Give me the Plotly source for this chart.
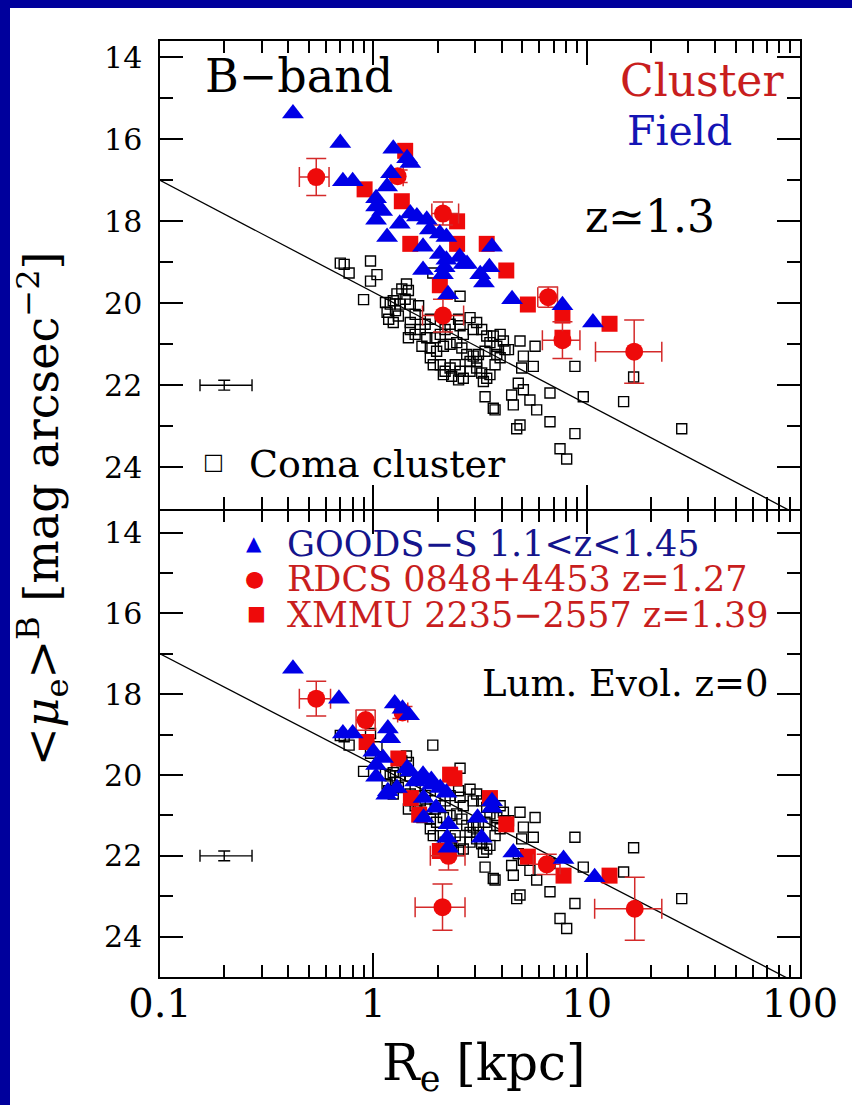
import plotly.graph_objects as go

# ---------------- data ----------------
# Kormendy relation of Coma (same line in both panels)
fit_re = [0.1, 100.0]
fit_mu = [17.0, 25.19]

# Coma cluster galaxies (z = 0), identical in both panels
coma_re = [0.70, 0.73, 0.77, 0.97, 1.04, 0.97, 0.90, 1.14, 1.20, 1.24,
           1.29, 1.36, 1.43, 1.46, 1.41, 1.33, 1.27, 1.16, 1.18, 1.24,
           1.31, 1.49, 1.63, 1.57, 1.49, 1.49, 1.46, 1.57, 1.66, 1.75,
           1.85, 1.78, 1.69, 1.85, 1.95, 2.06, 2.17, 2.29, 2.51, 2.55,
           2.64, 2.84, 3.05, 2.94, 3.22, 3.40, 3.65, 3.93, 4.07, 4.14,
           4.30, 3.79, 3.52, 3.34, 3.11, 2.94, 2.74, 2.60, 2.46, 2.29,
           2.13, 1.98, 1.85, 1.91, 2.06, 2.17, 2.29, 2.42, 2.55, 2.64,
           2.51, 2.33, 2.13, 2.84, 3.05, 3.22, 3.40, 3.28, 3.52, 3.72,
           3.93, 3.79, 3.05, 2.84, 4.87, 5.73, 5.05, 5.62, 4.96, 4.78,
           5.05, 5.42, 5.83, 4.45, 4.53, 3.34, 3.65, 3.72, 4.70, 4.87,
           6.73, 6.73, 8.81, 9.64, 8.81, 7.50, 8.06, 14.9, 16.6, 27.9,
           1.90, 2.55]
coma_mu = [19.02, 19.05, 19.26, 18.97, 19.30, 19.46, 19.91, 19.98, 20.02, 19.94,
           19.77, 19.65, 19.53, 19.69, 19.90, 20.02, 20.18, 20.22, 20.39, 20.47,
           20.31, 20.02, 20.06, 20.27, 20.47, 20.64, 20.84, 20.76, 20.64, 20.51,
           20.39, 20.84, 21.05, 21.09, 20.84, 20.76, 20.64, 20.51, 20.39, 20.55,
           20.76, 20.35, 20.47, 20.64, 20.64, 20.80, 20.80, 20.76, 20.92, 21.13,
           21.13, 21.05, 20.96, 21.17, 21.25, 21.29, 21.25, 21.09, 20.96, 21.00,
           21.05, 21.17, 21.33, 21.50, 21.50, 21.66, 21.58, 21.50, 21.66, 21.83,
           21.87, 21.78, 21.74, 21.66, 21.58, 21.70, 21.83, 21.91, 21.74, 21.50,
           21.33, 21.25, 21.42, 21.42, 20.92, 21.05, 21.29, 21.54, 21.58, 21.95,
           22.11, 22.36, 22.60, 22.24, 22.48, 22.28, 22.56, 22.60, 23.06, 22.97,
           22.19, 22.89, 21.54, 22.28, 23.18, 23.55, 23.80, 22.40, 21.80, 23.06,
           19.26, 19.83]

# ---- top panel: observed at z~1.3 ----
field_re_z13 = [0.42, 0.70, 0.72, 0.80, 1.24, 1.44, 1.49, 1.21, 1.16, 1.03,
                1.03, 1.03, 1.16, 1.33, 1.49, 1.60, 1.78, 1.84, 2.05, 2.20,
                1.71, 2.05, 2.20, 2.54, 2.75, 1.71, 2.12, 3.17, 3.50, 3.60,
                2.16, 2.65, 3.30, 2.24, 4.47, 7.70, 10.7, 1.10]
field_mu_z13 = [15.37, 16.09, 17.02, 17.02, 16.23, 16.46, 16.58, 16.83, 17.15, 17.44,
                17.64, 17.96, 18.38, 18.06, 17.81, 17.88, 17.96, 18.20, 18.30, 18.38,
                18.62, 18.80, 18.94, 18.87, 19.04, 19.19, 19.29, 19.29, 19.12, 18.62,
                19.12, 19.04, 19.49, 19.78, 19.90, 20.05, 20.47, 17.75]

xmmu_re_z13 = [0.91, 1.41, 1.36, 2.47, 1.49, 2.47, 3.40, 4.20, 2.05, 5.30, 7.70, 7.70, 12.8]
xmmu_mu_z13 = [17.22, 16.28, 17.51, 18.00, 18.55, 18.55, 18.55, 19.20, 19.56, 20.03, 20.30, 20.84, 20.50]

rdcs_re_z13 = [0.54, 1.30, 2.12, 2.12, 6.60, 7.70, 16.7]
rdcs_mu_z13 = [16.92, 16.90, 17.81, 20.30, 19.85, 20.90, 21.18]
rdcs_re_lo_z13 = [0.45, 1.22, 1.88, 1.70, 5.90, 6.20, 11.0]
rdcs_re_hi_z13 = [0.62, 1.38, 2.51, 2.65, 7.30, 9.30, 22.5]
rdcs_mu_err_z13 = [0.45, 0.15, 0.28, 0.40, 0.25, 0.45, 0.77]

# ---- bottom panel: luminosity-evolved to z=0 ----
field_re_z0 = [0.42, 0.69, 1.26, 1.37, 1.47, 0.72, 0.80, 1.17, 1.20, 1.00,
               1.03, 1.03, 1.11, 1.15, 1.44, 1.57, 1.72, 1.88, 2.06, 2.20,
               1.72, 1.72, 1.97, 2.25, 2.25, 2.22, 3.08, 3.22, 3.60, 3.60,
               4.53, 7.79, 10.9, 1.29, 1.49, 1.71, 1.87, 1.17]
field_mu_z0 = [17.37, 18.11, 18.23, 18.36, 18.52, 18.97, 18.97, 18.85, 19.09, 19.42,
               19.75, 20.04, 19.58, 20.49, 19.83, 20.16, 20.08, 20.24, 20.32, 20.44,
               20.57, 21.06, 20.81, 21.22, 21.80, 21.55, 21.06, 21.55, 20.65, 20.81,
               21.92, 22.08, 22.53, 20.32, 19.91, 19.99, 20.12, 20.40]

xmmu_re_z0 = [0.93, 1.31, 2.29, 2.40, 3.52, 4.20, 1.50, 1.64, 2.05, 5.30, 7.79, 12.8]
xmmu_mu_z0 = [19.18, 19.59, 19.99, 20.08, 20.57, 21.22, 20.57, 20.98, 21.88, 22.02, 22.49, 22.49]

rdcs_re_z0 = [0.54, 0.92, 1.37, 2.25, 2.11, 6.50, 16.8]
rdcs_mu_z0 = [18.11, 18.64, 18.45, 22.00, 23.27, 22.21, 23.31]
rdcs_re_lo_z0 = [0.45, 0.83, 1.30, 1.85, 1.57, 5.62, 10.9]
rdcs_re_hi_z0 = [0.63, 1.02, 1.45, 2.69, 2.69, 7.50, 22.5]
rdcs_mu_err_z0 = [0.43, 0.25, 0.15, 0.35, 0.57, 0.25, 0.78]

# typical Coma error bar
typ_re = [0.2]
typ_mu = [22.0]
typ_re_lo = [0.154]
typ_re_hi = [0.27]
typ_mu_err = [0.12]

# axes ticks
x_tickvals = [0.1, 1, 10, 100]
x_ticktext = ["0.1", "1", "10", "100"]
x_minorvals = [0.2, 0.3, 0.4, 0.5, 0.6, 0.7, 0.8, 0.9,
               2, 3, 4, 5, 6, 7, 8, 9, 20, 30, 40, 50, 60, 70, 80, 90]
y_tickvals = [14, 16, 18, 20, 22, 24]
y_minorvals = [15, 17, 19, 21, 23]
y_range_top = [25.02, 13.6]
y_range_bottom = [25.0, 13.45]

# ---------------- style ----------------
FONT = "DejaVu Serif"
RED = "#ee0a0a"
RED_ERR = "#d42a2a"
RED_TXT = "#c81e1e"
BLUE = "#0000e6"
BLUE_TXT = "#1414b4"
NAVY_TXT = "#14148c"
FRAME = "#00009c"
LW = 1.5

fig = go.Figure()


def add_panel(xa, ya, f_re, f_mu, x_re, x_mu, r_re, r_mu, r_lo, r_hi, r_err):
    common = dict(xaxis=xa, yaxis=ya, hoverinfo="skip", showlegend=False)
    fig.add_trace(go.Scatter(x=fit_re, y=fit_mu, mode="lines",
                             line=dict(color="black", width=1.3), **common))
    fig.add_trace(go.Scatter(x=coma_re, y=coma_mu, mode="markers",
                             marker=dict(symbol="square-open", size=10, color="black",
                                         line=dict(width=1.4, color="black")), **common))
    fig.add_trace(go.Scatter(
        x=typ_re, y=typ_mu, mode="markers",
        marker=dict(size=1, color="black"),
        error_x=dict(type="data", symmetric=False,
                     array=[h - r for h, r in zip(typ_re_hi, typ_re)],
                     arrayminus=[r - l for r, l in zip(typ_re, typ_re_lo)],
                     color="black", thickness=1.4, width=6),
        error_y=dict(type="data", array=typ_mu_err, color="black", thickness=1.4, width=6),
        **common))
    fig.add_trace(go.Scatter(x=x_re, y=x_mu, mode="markers",
                             marker=dict(symbol="square", size=16, color=RED,
                                         line=dict(width=0)), **common))
    fig.add_trace(go.Scatter(
        x=r_re, y=r_mu, mode="markers",
        marker=dict(symbol="circle", size=18, color=RED, line=dict(width=0)),
        error_x=dict(type="data", symmetric=False,
                     array=[h - r for h, r in zip(r_hi, r_re)],
                     arrayminus=[r - l for r, l in zip(r_re, r_lo)],
                     color=RED_ERR, thickness=1.5, width=10),
        error_y=dict(type="data", array=r_err, color=RED_ERR, thickness=1.5, width=10),
        **common))
    fig.add_trace(go.Scatter(x=f_re, y=f_mu, mode="markers",
                             marker=dict(symbol="triangle-up", size=19, color=BLUE,
                                         line=dict(width=0)), **common))


add_panel("x", "y", field_re_z13, field_mu_z13, xmmu_re_z13, xmmu_mu_z13,
          rdcs_re_z13, rdcs_mu_z13, rdcs_re_lo_z13, rdcs_re_hi_z13, rdcs_mu_err_z13)
add_panel("x2", "y2", field_re_z0, field_mu_z0, xmmu_re_z0, xmmu_mu_z0,
          rdcs_re_z0, rdcs_mu_z0, rdcs_re_lo_z0, rdcs_re_hi_z0, rdcs_mu_err_z0)

xcommon = dict(type="log", range=[-1, 2], showgrid=False, zeroline=False,
               showline=True, linecolor="black", linewidth=LW, mirror="ticks",
               ticks="inside", ticklen=24, tickwidth=1.5, tickcolor="black",
               tickvals=x_tickvals, ticktext=x_ticktext,
               minor=dict(ticks="inside", ticklen=12, tickwidth=1.5, tickcolor="black",
                          tickmode="array", tickvals=x_minorvals, showgrid=False),
               tickfont=dict(family=FONT, size=40, color="black"))
ycommon = dict(showgrid=False, zeroline=False,
               showline=True, linecolor="black", linewidth=LW, mirror="ticks",
               ticks="inside", ticklen=23, tickwidth=1.5, tickcolor="black",
               tickvals=y_tickvals,
               minor=dict(ticks="inside", ticklen=13, tickwidth=1.5, tickcolor="black",
                          tickmode="array", tickvals=y_minorvals, showgrid=False),
               tickfont=dict(family=FONT, size=30, color="black"),
               ticklabelstandoff=10)

# plot area: x 160..800 px, y 41..977 px (two panels of 468 px);
# lower panel nudged so both axis lines at the junction coincide
PLOT_H = 936.0
lower_top = 0.5 - LW / PLOT_H

fig.update_layout(
    width=852, height=1105,
    margin=dict(l=160, r=52, t=41, b=128),
    paper_bgcolor="white", plot_bgcolor="white",
    xaxis=dict(domain=[0, 1], anchor="y", showticklabels=False, **xcommon),
    xaxis2=dict(domain=[0, 1], anchor="y2", matches="x", showticklabels=True,
                ticklabelstandoff=-10, **xcommon),
    yaxis=dict(domain=[0.5, 1], anchor="x", range=y_range_top, **ycommon),
    yaxis2=dict(domain=[0, lower_top], anchor="x2", range=y_range_bottom, **ycommon),
    showlegend=False,
)

# blue slide frame (left strip and top strip)
W = 640.0


def px_x(p):
    return (p - 160) / W


def px_y(p):
    return (977 - p) / PLOT_H


fig.add_shape(type="rect", xref="paper", yref="paper",
              x0=px_x(0), x1=px_x(10), y0=px_y(1105), y1=px_y(0),
              fillcolor=FRAME, line=dict(width=0), layer="above")
fig.add_shape(type="rect", xref="paper", yref="paper",
              x0=px_x(0), x1=px_x(852), y0=px_y(8), y1=px_y(0),
              fillcolor=FRAME, line=dict(width=0), layer="above")


def txt(text, px, py, size, color="black", xanchor="left", angle=0):
    fig.add_annotation(text=text, xref="paper", yref="paper",
                       x=px_x(px), y=px_y(py), xanchor=xanchor, yanchor="middle",
                       showarrow=False, textangle=angle,
                       font=dict(family=FONT, size=size, color=color))


txt("B\u2212band", 203, 76, 46)
txt("Cluster", 618, 81, 44, RED_TXT)
txt("Field", 625, 131, 41, BLUE_TXT)
txt("z\u22431.3", 583, 216, 44)
txt("\u25a1", 213, 462, 22, xanchor="center")
txt("Coma cluster", 247, 464, 38)

txt("\u25b2", 254, 543, 20, BLUE, xanchor="center")
txt("GOODS\u2212S 1.1&lt;z&lt;1.45", 285, 544, 35, NAVY_TXT)
txt("\u25cf", 254, 578, 22, RED, xanchor="center")
txt("RDCS 0848+4453 z=1.27", 285, 579, 35, RED_TXT)
txt("\u25a0", 256, 613, 20, RED, xanchor="center")
txt("XMMU 2235\u22122557 z=1.39", 285, 615, 35, RED_TXT)
txt("Lum. Evol. z=0", 480, 683, 37)

# axis titles
txt("R<sub>e</sub> [kpc]", 484, 1066, 50, xanchor="center")
txt("&lt;<i>\u03bc</i><sub>e</sub>&gt;<sup>B</sup> [mag arcsec<sup>\u22122</sup>]",
    42, 509, 46, xanchor="center", angle=-90)

fig.write_html("out.html", config={"displayModeBar": False},
               post_script="document.body.style.margin='0';")
